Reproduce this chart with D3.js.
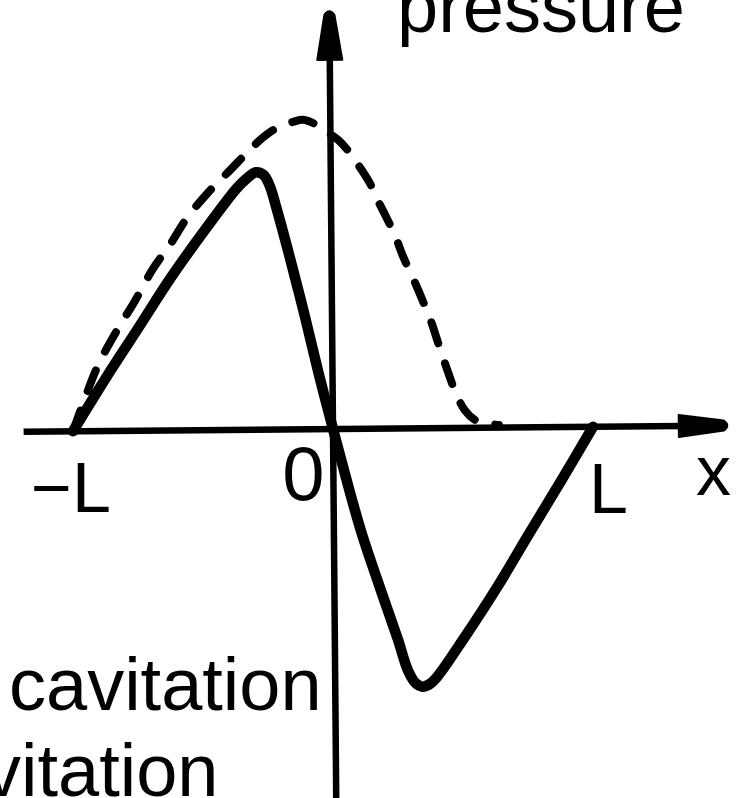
<!DOCTYPE html>
<html>
<head>
<meta charset="utf-8">
<script src="https://cdn.jsdelivr.net/npm/d3@7/dist/d3.min.js"></script>
<style>
  html, body { margin: 0; padding: 0; background: #fff; }
  svg { display: block; }
</style>
</head>
<body>
<svg id="chart" width="745" height="798"></svg>
<script>
// Pressure distribution along the bearing, x in units of L, pressure normalised.
// Solid: with cavitation (pressure goes negative on the right half).
const solidX = [-1, -0.873, -0.746, -0.619, -0.488, -0.362, -0.323, -0.288, -0.258, -0.235, -0.208,
  -0.158, -0.104, -0.054, 0, 0.054, 0.108, 0.177, 0.242, 0.281, 0.308, 0.335, 0.365, 0.396,
  0.496, 0.627, 0.754, 0.881, 1];
const solidY = [0, 0.202, 0.394, 0.587, 0.767, 0.929, 0.967, 0.990, 0.979, 0.937, 0.844,
  0.652, 0.433, 0.217, 0, -0.210, -0.406, -0.617, -0.810, -0.933, -0.979, -0.994, -0.983, -0.952,
  -0.810, -0.612, -0.404, -0.198, 0];

// Dashed: no cavitation (pressure never drops below zero).
const dashedX = [-1, -0.958, -0.900, -0.823, -0.758, -0.688, -0.619, -0.554, -0.473, -0.388,
  -0.312, -0.258, -0.200, -0.142, -0.104, -0.054, -0.015, 0.031, 0.073, 0.112, 0.150, 0.177,
  0.212, 0.246, 0.273, 0.319, 0.354, 0.381, 0.408, 0.446, 0.477, 0.508, 0.542, 0.588, 0.638];
const dashedY = [0, 0.113, 0.256, 0.394, 0.498, 0.621, 0.717, 0.817, 0.913, 0.998,
  1.075, 1.125, 1.163, 1.183, 1.190, 1.171, 1.144, 1.110, 1.063, 1.006, 0.944, 0.883,
  0.813, 0.740, 0.667, 0.563, 0.479, 0.410, 0.325, 0.210, 0.125, 0.067, 0.033, 0.017, 0.010];

// Tick labels on the x axis
const tickValues = [-1, 0, 1];
const tickLabels = ["\u2212L", "0", "L"];
const xAxisTitle = "x";
const yAxisTitle = "pressure";
const noteLines = ["cavitation", "vitation"];

// Axis extents in data units
const xAxisRange = [-1.19, 1.53];
const yAxisRange = [-1.42, 1.62];

const svg = d3.select("#chart");
const W = 745, H = 798;
svg.append("rect").attr("width", W).attr("height", H).attr("fill", "#fff");

const x = d3.scaleLinear().domain([-1, 1]).range([73, 593]);
const y = d3.scaleLinear().domain([0, 1]).range([429, 169]);

// Plot group, drawn slightly tilted like the original hand-drawn figure
const g = svg.append("g").attr("transform", `rotate(-0.5, ${x(0)}, ${y(0)})`);

// Horizontal axis with arrow
const x0 = x(0), y0 = y(0);
const hTip = x(xAxisRange[1]);
const hBase = hTip - 52;
g.append("line")
  .attr("x1", x(xAxisRange[0])).attr("y1", y0)
  .attr("x2", hBase + 4).attr("y2", y0)
  .attr("stroke", "#000").attr("stroke-width", 6.5);
g.append("path")
  .attr("d", `M${hBase},${y0 - 11} L${hTip - 7},${y0 - 5} Q${hTip},${y0} ${hTip - 7},${y0 + 5} L${hBase},${y0 + 11} Z`)
  .attr("fill", "#000").attr("stroke", "#000").attr("stroke-width", 2).attr("stroke-linejoin", "round");

// Vertical axis with arrow
const vTip = y(yAxisRange[1]);
const vBase = vTip + 52;
g.append("line")
  .attr("x1", x0).attr("y1", y(yAxisRange[0]))
  .attr("x2", x0).attr("y2", vBase - 4)
  .attr("stroke", "#000").attr("stroke-width", 6.5);
g.append("path")
  .attr("d", `M${x0 - 12.5},${vBase} L${x0 - 5},${vTip + 7} Q${x0},${vTip} ${x0 + 5},${vTip + 7} L${x0 + 12.5},${vBase} Z`)
  .attr("fill", "#000").attr("stroke", "#000").attr("stroke-width", 2).attr("stroke-linejoin", "round");

const line = d3.line()
  .x(d => x(d[0]))
  .y(d => y(d[1]))
  .curve(d3.curveCatmullRom.alpha(0.5));

// Dashed curve
g.append("path")
  .datum(d3.zip(dashedX, dashedY))
  .attr("d", line)
  .attr("fill", "none")
  .attr("stroke", "#000")
  .attr("stroke-width", 8)
  .attr("stroke-linecap", "round")
  .attr("stroke-dasharray", "22 21");

// Solid curve
g.append("path")
  .datum(d3.zip(solidX, solidY))
  .attr("d", line)
  .attr("fill", "none")
  .attr("stroke", "#000")
  .attr("stroke-width", 10.5)
  .attr("stroke-linecap", "round")
  .attr("stroke-linejoin", "round");

// Tick labels
const tickStyle = [
  { dx: -42, y: 512, anchor: "start", size: 70 },
  { dx: -29.5, y: 500, anchor: "middle", size: 76 },
  { dx: -4, y: 513, anchor: "start", size: 70 }
];
svg.selectAll("text.tick")
  .data(tickValues)
  .join("text")
  .attr("class", "tick")
  .attr("x", (d, i) => x(d) + tickStyle[i].dx)
  .attr("y", (d, i) => tickStyle[i].y)
  .attr("text-anchor", (d, i) => tickStyle[i].anchor)
  .attr("font-size", (d, i) => tickStyle[i].size)
  .attr("font-family", "'Liberation Sans', Arial, sans-serif")
  .attr("fill", "#000")
  .text((d, i) => tickLabels[i]);

// Axis titles
svg.append("text")
  .attr("x", 713.5).attr("y", 495)
  .attr("text-anchor", "middle")
  .attr("font-size", 70)
  .attr("font-family", "'Liberation Sans', Arial, sans-serif")
  .attr("fill", "#000")
  .text(xAxisTitle);

svg.append("text")
  .attr("x", 397).attr("y", 32)
  .attr("font-size", 74)
  .attr("font-family", "'Liberation Sans', Arial, sans-serif")
  .attr("fill", "#000")
  .text(yAxisTitle);

// Curve notes
const noteX = [9, -16];
const noteY = [710, 796];
svg.selectAll("text.note")
  .data(noteLines)
  .join("text")
  .attr("class", "note")
  .attr("x", (d, i) => noteX[i])
  .attr("y", (d, i) => noteY[i])
  .attr("font-size", 74)
  .attr("font-family", "'Liberation Sans', Arial, sans-serif")
  .attr("fill", "#000")
  .text(d => d);
</script>
</body>
</html>
